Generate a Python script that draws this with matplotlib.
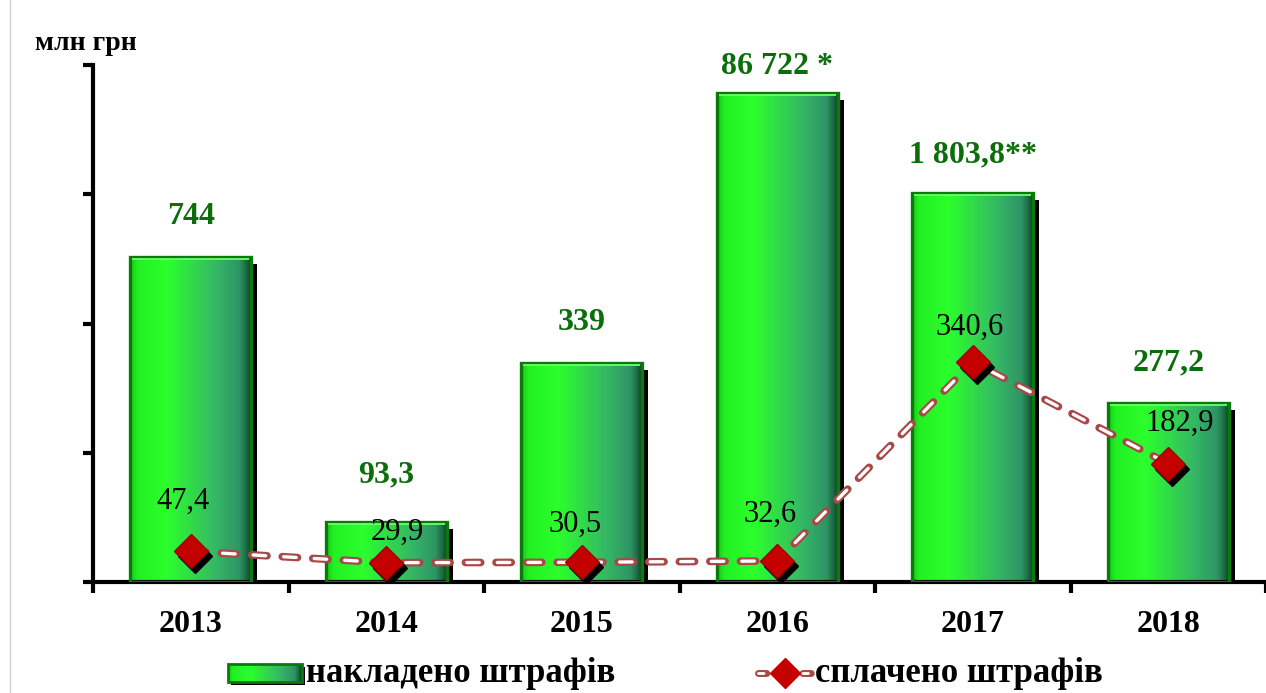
import matplotlib
matplotlib.use("Agg")
import matplotlib.pyplot as plt
import numpy as np
from matplotlib.patches import Rectangle
from matplotlib.transforms import ScaledTranslation
from matplotlib.colors import LinearSegmentedColormap

# ---- data ----
years = ["2013", "2014", "2015", "2016", "2017", "2018"]
imposed_labels = ["744", "93,3", "339", "86 722 *", "1 803,8**", "277,2"]
imposed_values = [744, 93.3, 339, 86722, 1803.8, 277.2]
# heights as drawn in the chart (broken scale for the large values)
imposed_drawn = [503, 93.3, 339, 757, 602, 277.2]
paid_values = [47.4, 29.9, 30.5, 32.6, 340.6, 182.9]
paid_labels = ["47,4", "29,9", "30,5", "32,6", "340,6", "182,9"]
unit_label = "млн грн"
legend_labels = ["накладено штрафів", "сплачено штрафів"]

FONT = "Liberation Serif"
plt.rcParams["font.family"] = [FONT, "DejaVu Serif"]
plt.rcParams["lines.scale_dashes"] = False

W, H = 1266, 693
fig = plt.figure(figsize=(W / 100, H / 100), dpi=100)
ax = fig.add_axes([93 / W, 111 / H, 1173 / W, 517 / H])
ax.set_xlim(-0.5, 5.5)
ax.set_ylim(0, 800)

x = np.arange(len(years))
bw = 0.62
cmap = LinearSegmentedColormap.from_list(
    "g", [(0, "#14c814"), (0.06, "#22f022"), (0.3, "#2cff2c"), (0.7, "#35b865"),
          (0.9, "#2e9466"), (0.95, "#1e6e44"), (1, "#0c3a20")])
grad = np.linspace(0, 1, 256).reshape(1, -1)

def shift(px, py):
    return ax.transData + ScaledTranslation(px / 100, py / 100, fig.dpi_scale_trans)

for i, h in enumerate(imposed_drawn):
    x0 = x[i] - bw / 2
    sh = Rectangle((x0, 0), bw, h, facecolor="black", edgecolor="none",
                   transform=shift(6, -7), zorder=1, clip_on=True)
    ax.add_patch(sh)
    im = ax.imshow(grad, cmap=cmap, aspect="auto", extent=[x0, x0 + bw, 0, h],
                   zorder=2, interpolation="bilinear")
    rect = Rectangle((x0, 0), bw, h, facecolor="none", edgecolor="#0a7a0a",
                     linewidth=2.4, zorder=3)
    ax.add_patch(rect)
    im.set_clip_path(rect)
    # bevel highlight along top
    ax.plot([x0 + 0.012, x0 + bw - 0.012], [h - 3.5, h - 3.5], color="#6cff6c",
            linewidth=1.3, zorder=3.5, solid_capstyle="butt")

label_off = [40, 47, 40, 26, 38, 40]
for i, (h, lab) in enumerate(zip(imposed_drawn, imposed_labels)):
    ax.annotate(lab, (x[i], h), xytext=(0, label_off[i] * 0.72), textcoords="offset points",
                ha="center", va="center", fontsize=23, fontweight="bold",
                color="#0b6e0b", zorder=6)

# paid line: hollow dashed
ax.plot(x, paid_values, color="#a84848", linewidth=5.5,
        linestyle=(0, (11, 11)), dash_capstyle="round", zorder=4)
ax.plot(x, paid_values, color="white", linewidth=2.4,
        linestyle=(21, (9, 13)), dash_capstyle="round", zorder=4.1)
ax.plot(x, paid_values, linestyle="none", marker="D", markersize=17,
        color="black", transform=shift(4, -5), zorder=4.5)
ax.plot(x, paid_values, linestyle="none", marker="D", markersize=17,
        markerfacecolor="#c40000", markeredgecolor="#a00000", zorder=5)

paid_off = [(-8, 50), (11, 30), (-7, 38), (-7, 47), (-3, 35), (11, 40)]
for i, (v, lab) in enumerate(zip(paid_values, paid_labels)):
    dx, dy = paid_off[i]
    ax.annotate(lab, (x[i], v), xytext=(dx * 0.72, dy * 0.72), textcoords="offset points",
                ha="center", va="center", fontsize=22, color="black", zorder=6)

for s in ["top", "right"]:
    ax.spines[s].set_visible(False)
ax.spines["left"].set_linewidth(3)
ax.spines["bottom"].set_linewidth(3)
ax.set_yticks([0, 200, 400, 600, 800])
ax.set_yticklabels([])
ax.tick_params(axis="y", length=7, width=3, direction="out")
ax.set_xticks(x)
ax.set_xticklabels(years, fontsize=23, fontweight="bold")
ax.tick_params(axis="x", length=0, pad=20)
ax.set_xticks(np.arange(-0.5, 5.6, 1), minor=True)
ax.tick_params(axis="x", which="minor", length=8, width=3, direction="out")

# overlay for title + legend
ov = fig.add_axes([0, 0, 1, 1], zorder=10)
ov.set_xlim(0, W)
ov.set_ylim(H, 0)
ov.axis("off")
ov.patch.set_alpha(0)
ov.text(35, 43, unit_label, fontsize=20, fontweight="bold", ha="left", va="center")
ov.plot([10, 10], [0, H], color="#d0d0d0", linewidth=1)

# legend
lx0, ly = 228, 673
ov.add_patch(Rectangle((lx0 + 3, ly - 9 + 3), 74, 18, facecolor="black", zorder=1))
limg = ov.imshow(grad, cmap=cmap, aspect="auto", extent=[lx0, lx0 + 74, ly + 9, ly - 9], zorder=2)
lr = Rectangle((lx0, ly - 9), 74, 18, facecolor="none", edgecolor="#0a7a0a", linewidth=2, zorder=3)
ov.add_patch(lr)
limg.set_clip_path(lr)
ov.text(306, ly, legend_labels[0], fontsize=25, fontweight="bold", ha="left", va="center")
ov.plot([758, 812], [ly, ly], color="#a84848", linewidth=5, linestyle=(0, (6, 10)),
        dash_capstyle="round")
ov.plot([758, 812], [ly, ly], color="white", linewidth=2, linestyle=(0, (4, 12)),
        dash_capstyle="round")
ov.plot([785], [ly], marker="D", markersize=15, color="#c40000", linestyle="none")
ov.text(815, ly, legend_labels[1], fontsize=25, fontweight="bold", ha="left", va="center")

fig.savefig("out.png", dpi=100)
